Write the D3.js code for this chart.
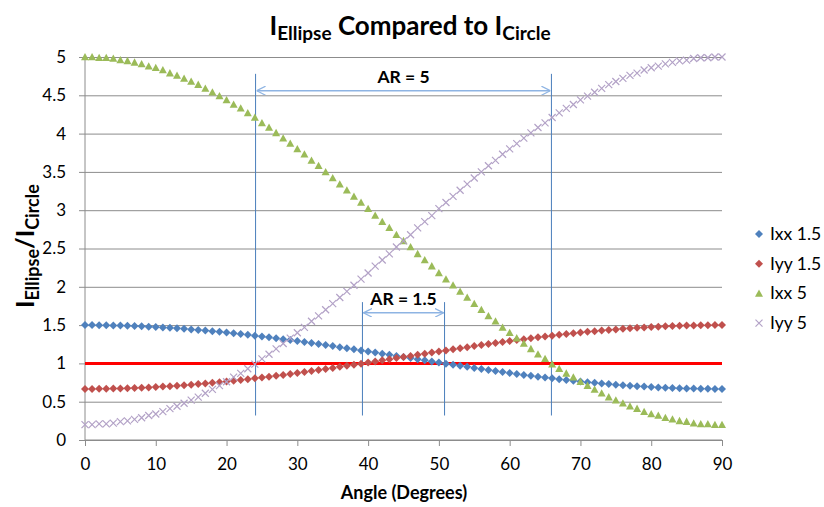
<!DOCTYPE html>
<html>
<head>
<meta charset="utf-8">
<script src="https://cdn.jsdelivr.net/npm/d3@7/dist/d3.min.js"></script>
<style>
  html, body { margin: 0; padding: 0; background: #fff; }
  svg { display: block; font-family: Lato, "Open Sans", sans-serif; }
</style>
</head>
<body>
<svg id="chart" width="824" height="507"></svg>
<script>
// Angle in degrees, one sample per degree
const angles = d3.range(0, 91);

const ixx15 = [1.500,1.500,1.499,1.498,1.496,1.494,1.491,1.488,1.484,1.480,
  1.475,1.470,1.464,1.458,1.451,1.444,1.437,1.429,1.420,1.412,
  1.403,1.393,1.383,1.373,1.362,1.351,1.340,1.328,1.316,1.304,
  1.292,1.279,1.266,1.253,1.239,1.226,1.212,1.198,1.184,1.170,
  1.156,1.141,1.127,1.112,1.098,1.083,1.069,1.054,1.040,1.025,
  1.011,0.997,0.983,0.968,0.955,0.941,0.927,0.914,0.901,0.888,
  0.875,0.863,0.850,0.838,0.827,0.816,0.805,0.794,0.784,0.774,
  0.764,0.755,0.746,0.738,0.730,0.722,0.715,0.709,0.703,0.697,
  0.692,0.687,0.683,0.679,0.676,0.673,0.671,0.669,0.668,0.667,0.667];

const iyy15 = [0.667,0.667,0.668,0.669,0.671,0.673,0.676,0.679,0.683,0.687,
  0.692,0.697,0.703,0.709,0.715,0.722,0.730,0.738,0.746,0.755,
  0.764,0.774,0.784,0.794,0.805,0.816,0.827,0.838,0.850,0.863,
  0.875,0.888,0.901,0.914,0.927,0.941,0.955,0.968,0.983,0.997,
  1.011,1.025,1.040,1.054,1.069,1.083,1.098,1.112,1.127,1.141,
  1.156,1.170,1.184,1.198,1.212,1.226,1.239,1.253,1.266,1.279,
  1.292,1.304,1.316,1.328,1.340,1.351,1.362,1.373,1.383,1.393,
  1.403,1.412,1.420,1.429,1.437,1.444,1.451,1.458,1.464,1.470,
  1.475,1.480,1.484,1.488,1.491,1.494,1.496,1.498,1.499,1.500,1.500];

const ixx5 = [5.00,5.00,4.99,4.99,4.98,4.96,4.95,4.93,4.91,4.88,
  4.86,4.83,4.79,4.76,4.72,4.68,4.64,4.59,4.54,4.49,
  4.44,4.38,4.33,4.27,4.21,4.14,4.08,4.01,3.94,3.87,
  3.80,3.73,3.65,3.58,3.50,3.42,3.34,3.26,3.18,3.10,
  3.02,2.93,2.85,2.77,2.68,2.60,2.52,2.43,2.35,2.27,
  2.18,2.10,2.02,1.94,1.86,1.78,1.70,1.62,1.55,1.47,
  1.40,1.33,1.26,1.19,1.12,1.06,0.99,0.93,0.87,0.82,
  0.76,0.71,0.66,0.61,0.56,0.52,0.48,0.44,0.41,0.37,
  0.34,0.32,0.29,0.27,0.25,0.24,0.22,0.21,0.21,0.20,0.20];

const iyy5 = [0.20,0.20,0.21,0.21,0.22,0.24,0.25,0.27,0.29,0.32,
  0.34,0.37,0.41,0.44,0.48,0.52,0.56,0.61,0.66,0.71,
  0.76,0.82,0.87,0.93,0.99,1.06,1.12,1.19,1.26,1.33,
  1.40,1.47,1.55,1.62,1.70,1.78,1.86,1.94,2.02,2.10,
  2.18,2.27,2.35,2.43,2.52,2.60,2.68,2.77,2.85,2.93,
  3.02,3.10,3.18,3.26,3.34,3.42,3.50,3.58,3.65,3.73,
  3.80,3.87,3.94,4.01,4.08,4.14,4.21,4.27,4.33,4.38,
  4.44,4.49,4.54,4.59,4.64,4.68,4.72,4.76,4.79,4.83,
  4.86,4.88,4.91,4.93,4.95,4.96,4.98,4.99,4.99,5.00,5.00];

const seriesNames = ["Ixx 1.5", "Iyy 1.5", "Ixx 5", "Iyy 5"];
const xTicks = [0, 10, 20, 30, 40, 50, 60, 70, 80, 90];
const yTicks = [0, 0.5, 1, 1.5, 2, 2.5, 3, 3.5, 4, 4.5, 5];

// Reference ratio of 1 and the aspect-ratio spans (angle where each curve crosses 1)
const unityLevel = 1;
const spanAR5 = { label: "AR = 5", from: 24.1, to: 65.9, top: 4.78, arrowAt: 4.56, textAt: 4.66, bottom: 0.32 };
const spanAR15 = { label: "AR = 1.5", from: 39.2, to: 50.8, top: 1.80, arrowAt: 1.66, textAt: 1.76, bottom: 0.32 };

const svg = d3.select("#chart");
const x = d3.scaleLinear().domain([0, 90]).range([85, 722]);
const y = d3.scaleLinear().domain([0, 5]).range([440, 57]);

const styles = [
  { color: "#4f81bd", shape: "diamond" },
  { color: "#c0504d", shape: "diamond" },
  { color: "#9bbb59", shape: "triangle" },
  { color: "#b3a2c7", shape: "cross" }
];
const valuesBySeries = [ixx15, iyy15, ixx5, iyy5];

// Horizontal gridlines
svg.append("g")
  .attr("transform", `translate(${x(0)},0)`)
  .call(d3.axisLeft(y).tickValues(yTicks).tickSize(-(x(90) - x(0))).tickFormat(""))
  .call(g => g.select(".domain").remove())
  .call(g => g.selectAll("line").attr("stroke", "#8c8c8c").attr("stroke-width", 1));

// Y axis
const yAxis = svg.append("g")
  .attr("transform", `translate(${x(0)},0)`)
  .call(d3.axisLeft(y).tickValues(yTicks).tickSize(6).tickPadding(13).tickFormat(d3.format("")));
yAxis.select(".domain").attr("stroke", "#8c8c8c").attr("d", `M0,${y(5)}V${y(0)}`);
yAxis.selectAll("line").attr("stroke", "#8c8c8c");
yAxis.selectAll("text").attr("font-size", 17).attr("fill", "#000").style("font-family", "Lato, sans-serif");

// X axis
const xAxis = svg.append("g")
  .attr("transform", `translate(0,${y(0)})`)
  .call(d3.axisBottom(x).tickValues(xTicks).tickSize(6).tickPadding(12));
xAxis.select(".domain").attr("stroke", "#8c8c8c").attr("d", `M${x(0)},0H${x(90)}`);
xAxis.selectAll("line").attr("stroke", "#8c8c8c");
xAxis.selectAll("text").attr("font-size", 17).attr("fill", "#000").style("font-family", "Lato, sans-serif");

// Aspect-ratio span markers
svg.append("defs").append("marker")
  .attr("id", "arrowHead")
  .attr("viewBox", "0 0 10 10")
  .attr("refX", 10).attr("refY", 5)
  .attr("markerWidth", 9).attr("markerHeight", 9)
  .attr("markerUnits", "userSpaceOnUse")
  .attr("orient", "auto-start-reverse")
  .append("path")
  .attr("d", "M0,0L10,5L0,10")
  .attr("fill", "none")
  .attr("stroke", "#8eb4e3")
  .attr("stroke-width", 1.4);

[spanAR5, spanAR15].forEach(s => {
  const g = svg.append("g");
  [s.from, s.to].forEach(a => {
    g.append("line")
      .attr("x1", x(a)).attr("x2", x(a))
      .attr("y1", y(s.top)).attr("y2", y(s.bottom))
      .attr("stroke", "#4a7ebb").attr("stroke-width", 1);
  });
  g.append("line")
    .attr("x1", x(s.from) + 1).attr("x2", x(s.to) - 1)
    .attr("y1", y(s.arrowAt)).attr("y2", y(s.arrowAt))
    .attr("stroke", "#8eb4e3").attr("stroke-width", 1.5)
    .attr("marker-start", "url(#arrowHead)")
    .attr("marker-end", "url(#arrowHead)");
  g.append("text")
    .attr("x", x((s.from + s.to) / 2)).attr("y", y(s.textAt))
    .attr("text-anchor", "middle")
    .attr("font-size", 17.5).attr("font-weight", 700)
    .attr("fill", "#000")
    .text(s.label);
});

// Unity reference line
svg.append("line")
  .attr("x1", x(0)).attr("x2", x(90))
  .attr("y1", y(unityLevel)).attr("y2", y(unityLevel))
  .attr("stroke", "#ff0000").attr("stroke-width", 3);

// Marker shapes
function markerPath(shape) {
  if (shape === "diamond") return "M0,-4L4,0L0,4L-4,0Z";
  if (shape === "triangle") return "M0,-4L4,3.3L-4,3.3Z";
  return "M-3.5,-3.5L3.5,3.5M-3.5,3.5L3.5,-3.5";
}
function drawMarker(sel, st) {
  const p = sel.append("path").attr("d", markerPath(st.shape));
  if (st.shape === "cross") p.attr("fill", "none").attr("stroke", st.color).attr("stroke-width", 1.2);
  else p.attr("fill", st.color);
  return p;
}

// Series points
valuesBySeries.forEach((vals, i) => {
  const st = styles[i];
  const g = svg.append("g");
  angles.forEach((a, k) => {
    drawMarker(g.append("g").attr("transform", `translate(${x(a)},${y(vals[k])})`), st);
  });
});

// Legend
const legend = svg.append("g");
seriesNames.forEach((name, i) => {
  const ly = 234 + i * 29.7;
  drawMarker(legend.append("g").attr("transform", `translate(759,${ly})`), styles[i]);
  legend.append("text")
    .attr("x", 770).attr("y", ly + 6)
    .attr("font-size", 17.5).attr("fill", "#000")
    .text(name);
});

// Title
const title = svg.append("text")
  .attr("x", 410).attr("y", 35)
  .attr("text-anchor", "middle")
  .attr("font-size", 26).attr("font-weight", 700).attr("fill", "#000");
title.append("tspan").text("I");
title.append("tspan").attr("font-size", 19).attr("dy", 5).text("Ellipse");
title.append("tspan").attr("dy", -5).text(" Compared to I");
title.append("tspan").attr("font-size", 19).attr("dy", 5).text("Circle");

// Axis titles
svg.append("text")
  .attr("x", 404).attr("y", 499)
  .attr("text-anchor", "middle")
  .attr("font-size", 18).attr("font-weight", 700).attr("fill", "#000")
  .text("Angle (Degrees)");

const yTitle = svg.append("text")
  .attr("transform", "translate(34,246) rotate(-90)")
  .attr("text-anchor", "middle")
  .attr("font-size", 25).attr("font-weight", 700).attr("fill", "#000");
yTitle.append("tspan").text("I");
yTitle.append("tspan").attr("font-size", 18).attr("dy", 5).text("Ellipse");
yTitle.append("tspan").attr("dy", -5).text("/I");
yTitle.append("tspan").attr("font-size", 18).attr("dy", 5).text("Circle");
</script>
</body>
</html>
